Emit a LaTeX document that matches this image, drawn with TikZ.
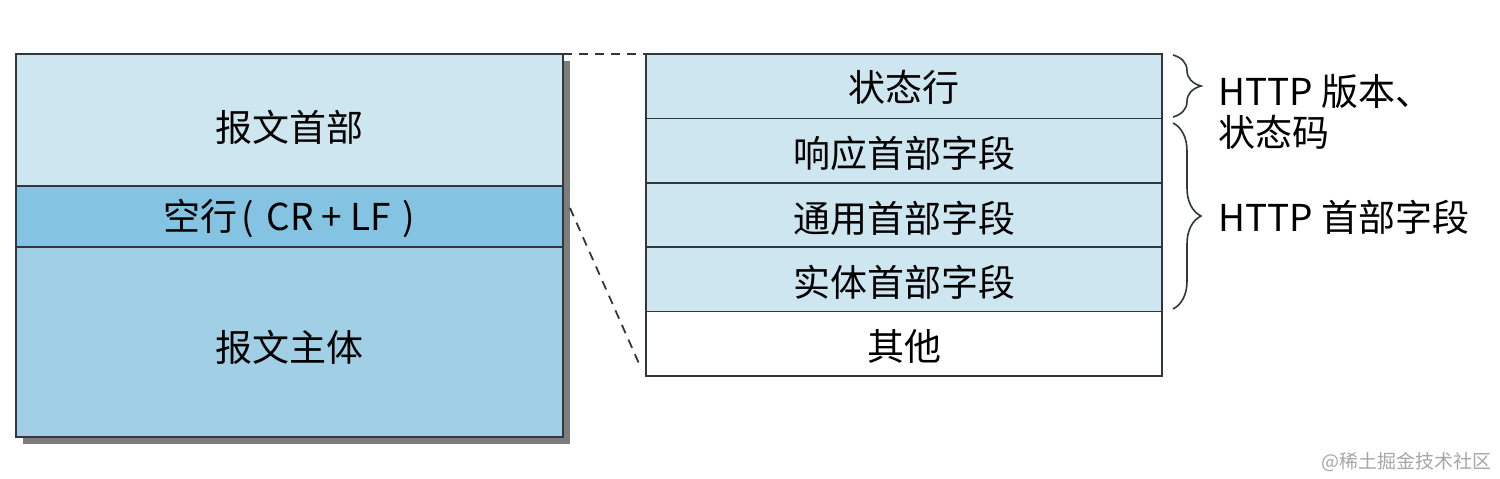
\documentclass[tikz,border=0pt]{standalone}
\usepackage{fontspec}
\setmainfont{Noto Sans CJK SC}
\usetikzlibrary{decorations.pathreplacing,calc}
\definecolor{hdrblue}{RGB}{206,230,240}
\definecolor{midblue}{RGB}{132,196,226}
\definecolor{bodyblue}{RGB}{161,208,230}
\definecolor{edgegray}{RGB}{50,55,60}
\definecolor{shadowgray}{RGB}{125,125,125}
\newcommand{\lowr}[2]{\raisebox{-#1}[\height][\depth]{#2}}
\begin{document}
\begin{tikzpicture}[x=0.5pt,y=-0.5pt,
  cell/.style={draw=edgegray,line width=0.8pt,inner sep=0pt,outer sep=0pt,anchor=north west,font=\fontsize{18.5}{20}\selectfont},
  lcell/.style={cell,minimum width=273.5pt},
  rcell/.style={cell,minimum width=258pt,minimum height=32.2pt,fill=hdrblue},
  dashline/.style={line width=0.9pt,dash pattern=on 4.5pt off 3.5pt,edgegray},
  bracestyle/.style={decorate,decoration={brace,amplitude=14pt,raise=0pt},line width=0.8pt,edgegray},
  lbl/.style={anchor=west,inner sep=0pt,font=\fontsize{18.5}{20.5}\selectfont,align=left}]
\useasboundingbox (0,0) rectangle (1500,478);
% shadow
\fill[shadowgray] (23,61) rectangle (570,444);
% left box
\node[lcell,minimum height=66pt,fill=hdrblue] (hdr) at (16,54) {\lowr{3.5pt}{报文首部}};
\node[lcell,minimum height=30.5pt,fill=midblue] (blank) at (16,186) {\lowr{1pt}{空行\hspace{2pt}(\hspace{6pt}CR\hspace{4pt}+\hspace{4pt}LF\hspace{6pt})}};
\node[lcell,minimum height=95pt,fill=bodyblue] (body) at (16,247) {\lowr{2.5pt}{报文主体}};
% right box
\node[rcell] (status) at (646,54) {\lowr{0.5pt}{状态行}};
\node[rcell] (resp) at (status.south west) {\lowr{1.5pt}{响应首部字段}};
\node[rcell] (gen) at (resp.south west) {\lowr{1.5pt}{通用首部字段}};
\node[rcell] (ent) at (gen.south west) {\lowr{1.5pt}{实体首部字段}};
\node[rcell,fill=white] (other) at (ent.south west) {\lowr{1.5pt}{其他}};
% dashed connectors
\coordinate (d1) at (570,208);
\coordinate (d2) at (641,368);
\draw[dashline] (hdr.north east) -- (status.north west);
\draw[dashline] (d1) -- (d2);
% braces
\coordinate (b1a) at (1173,55);
\coordinate (b1b) at (1173,117);
\coordinate (b2a) at (1173,123);
\coordinate (b2b) at (1173,309);
\draw[bracestyle] (b1a) -- (b1b);
\draw[bracestyle] (b2a) -- (b2b);
% labels
\node[lbl] (l1) at (1218,112) {HTTP 版本、\\状态码};
\node[lbl] (l2) at (1218,217) {HTTP 首部字段};
% watermark
\node[anchor=east,inner sep=0pt,text=gray!70,font=\fontsize{9.5}{10}\selectfont] (wm) at (1492,462) {@稀土掘金技术社区};
\end{tikzpicture}
\end{document}
